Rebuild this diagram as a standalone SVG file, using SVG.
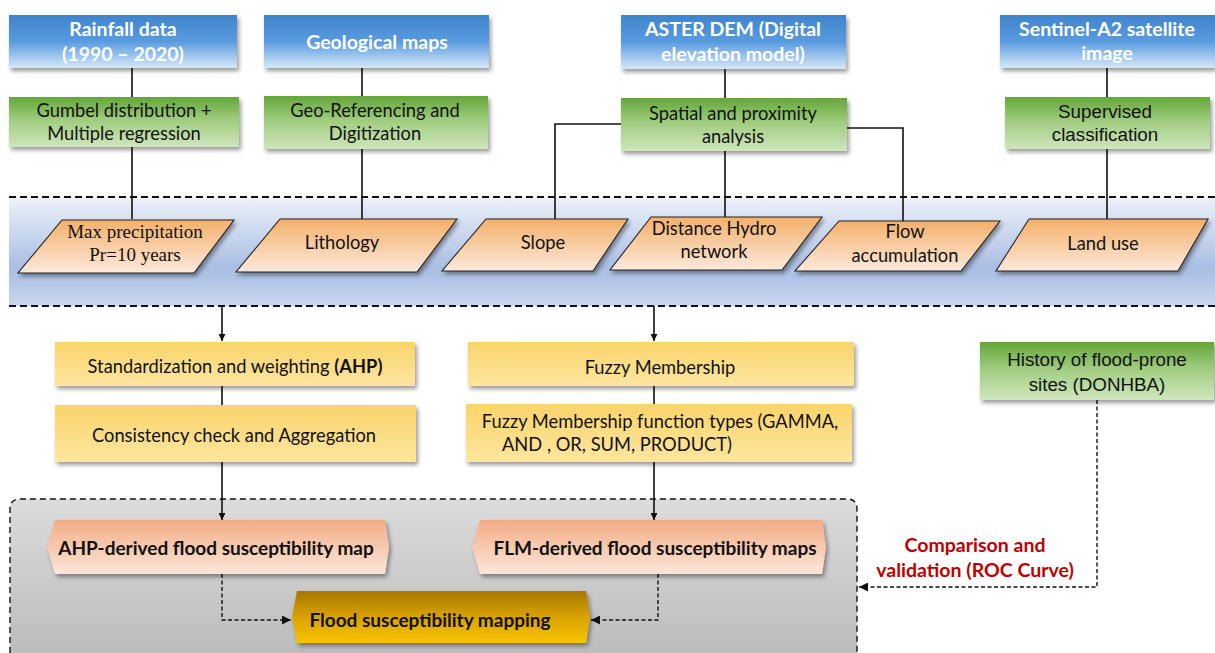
<svg xmlns="http://www.w3.org/2000/svg" width="1215" height="653" viewBox="0 0 1215 653">
<style>
.wt{font-family:Lato,"Liberation Sans",sans-serif;font-weight:bold;font-size:19.5px;fill:#fff;text-anchor:middle}
.ct{font-family:Lato,"Liberation Sans",sans-serif;font-size:18.3px;fill:#111;text-anchor:middle}
.at{font-family:"Liberation Sans",Arial,sans-serif;font-size:18.8px;fill:#111;text-anchor:middle}
.st{font-family:"Liberation Serif","Times New Roman",serif;font-size:19px;fill:#111;text-anchor:middle}
.bt{font-family:Lato,"Liberation Sans",sans-serif;font-weight:bold;font-size:19px;fill:#111;text-anchor:middle}
.rt{font-family:Lato,"Liberation Sans",sans-serif;font-weight:bold;font-size:19.5px;fill:#c00000;text-anchor:middle}
.ln{stroke:#111;stroke-width:1.6;fill:none}
.dl{stroke:#111;stroke-width:1.4;fill:none;stroke-dasharray:4 2.5}
.para{stroke:#222;stroke-width:1.1;fill:url(#gOr)}
</style>
<defs>
<linearGradient id="gBlue" x1="0" y1="0" x2="0" y2="1"><stop offset="0" stop-color="#3e84cc"/><stop offset="0.5" stop-color="#5a9be0"/><stop offset="1" stop-color="#d6e8f8"/></linearGradient>
<linearGradient id="gGreen" x1="0" y1="0" x2="0" y2="1"><stop offset="0" stop-color="#64a638"/><stop offset="0.45" stop-color="#9fcc7e"/><stop offset="1" stop-color="#cfe6bd"/></linearGradient>
<linearGradient id="gBand" x1="0" y1="0" x2="0" y2="1"><stop offset="0" stop-color="#eef2fa"/><stop offset="0.65" stop-color="#a9bee3"/><stop offset="1" stop-color="#c9d6ee"/></linearGradient>
<linearGradient id="gOr" x1="0" y1="0" x2="0" y2="1"><stop offset="0" stop-color="#f4b06a"/><stop offset="1" stop-color="#fde9dc"/></linearGradient>
<linearGradient id="gYel" x1="0" y1="0" x2="0" y2="1"><stop offset="0" stop-color="#fad46a"/><stop offset="1" stop-color="#fde6a0"/></linearGradient>
<linearGradient id="gHex" x1="0" y1="0" x2="0" y2="1"><stop offset="0" stop-color="#f2ad86"/><stop offset="1" stop-color="#fde6d8"/></linearGradient>
<linearGradient id="gGold" x1="0" y1="0" x2="0" y2="1"><stop offset="0" stop-color="#a87600"/><stop offset="0.5" stop-color="#d9a200"/><stop offset="1" stop-color="#f8c400"/></linearGradient>
<linearGradient id="gGrey" x1="0" y1="0" x2="0" y2="1"><stop offset="0" stop-color="#dcdcdc"/><stop offset="1" stop-color="#bcbcbc"/></linearGradient>
<filter id="sh" x="-10%" y="-20%" width="125%" height="150%"><feDropShadow dx="2" dy="3" stdDeviation="2" flood-color="#000" flood-opacity="0.4"/></filter>
<marker id="ah" viewBox="0 0 10 10" refX="10" refY="5" markerWidth="7" markerHeight="7" orient="auto" markerUnits="userSpaceOnUse"><path d="M0,0 L10,5 L0,10 z" fill="#111"/></marker>
<marker id="ah2" viewBox="0 0 10 10" refX="10" refY="5" markerWidth="9" markerHeight="9" orient="auto" markerUnits="userSpaceOnUse"><path d="M0,0 L10,5 L0,10 z" fill="#111"/></marker>
</defs>
<rect width="1215" height="653" fill="#fff"/>

<g id="band">
<rect x="9" y="197" width="1206" height="109" fill="url(#gBand)"/>
<line x1="9" y1="197" x2="1215" y2="197" stroke="#111" stroke-width="1.8" stroke-dasharray="7 4"/>
<line x1="9" y1="306" x2="1215" y2="306" stroke="#111" stroke-width="1.8" stroke-dasharray="7 4"/>
</g>
<g id="container">
<path d="M10,653 V509 Q10,499 20,499 H847 Q857,499 857,509 V653" fill="url(#gGrey)" stroke="#111" stroke-width="1.4" stroke-dasharray="6 4"/>
</g>

<g id="connectors">
<path class="ln" d="M132,68 V97 M132,147 V219"/>
<path class="ln" d="M362,68 V96 M362,149 V219"/>
<path class="ln" d="M725,69 V98 M725,151 V217"/>
<path class="ln" d="M621,124 H555 V219"/>
<path class="ln" d="M847,128 H903 V221"/>
<path class="ln" d="M1107,68 V97 M1107,149 V219"/>
<path class="ln" d="M222,306 V341" marker-end="url(#ah)"/>
<path class="ln" d="M654,306 V341" marker-end="url(#ah)"/>
<path class="ln" d="M222,386 V405"/>
<path class="ln" d="M654,386 V404"/>
<path class="ln" d="M222,462 V520" marker-end="url(#ah)"/>
<path class="ln" d="M654,462 V520" marker-end="url(#ah)"/>
<path class="dl" d="M222,574 V620 H291" marker-end="url(#ah2)"/>
<path class="dl" d="M658,574 V620 H591" marker-end="url(#ah2)"/>
<path class="dl" d="M1097,400 V587 H859" marker-end="url(#ah2)"/>
</g>

<g id="rainfall"><rect x="9" y="15" width="228" height="53" fill="url(#gBlue)" filter="url(#sh)"/><text class="wt" x="123" y="36">Rainfall data</text><text class="wt" x="123" y="61">(1990 – 2020)</text></g>
<g id="geomaps"><rect x="264" y="15" width="225" height="53" fill="url(#gBlue)" filter="url(#sh)"/><text class="wt" x="377" y="49">Geological maps</text></g>
<g id="aster"><rect x="621" y="15" width="225" height="54" fill="url(#gBlue)" filter="url(#sh)"/><text class="wt" x="733" y="36">ASTER DEM (Digital</text><text class="wt" x="733" y="61">elevation model)</text></g>
<g id="sentinel"><rect x="1000" y="15" width="215" height="53" fill="url(#gBlue)" filter="url(#sh)"/><text class="wt" x="1107" y="36">Sentinel-A2 satellite</text><text class="wt" x="1107" y="60">image</text></g>

<g id="gumbel"><rect x="9" y="97" width="230" height="50" fill="url(#gGreen)" filter="url(#sh)"/><text class="ct" x="124" y="117">Gumbel distribution +</text><text class="ct" x="124" y="140">Multiple regression</text></g>
<g id="georef"><rect x="264" y="96" width="224" height="53" fill="url(#gGreen)" filter="url(#sh)"/><text class="ct" x="375" y="117">Geo-Referencing and</text><text class="ct" x="375" y="140">Digitization</text></g>
<g id="spatial"><rect x="621" y="98" width="226" height="53" fill="url(#gGreen)" filter="url(#sh)"/><text class="ct" x="733" y="120">Spatial and proximity</text><text class="ct" x="733" y="143">analysis</text></g>
<g id="supervised"><rect x="1005" y="97" width="205" height="52" fill="url(#gGreen)" filter="url(#sh)"/><text class="at" x="1105" y="118">Supervised</text><text class="at" x="1105" y="141">classification</text></g>

<g id="maxprecip"><polygon class="para" points="62,220 234,220 194,273 18,273" filter="url(#sh)"/><text class="st" x="135" y="238">Max precipitation</text><text class="st" x="135" y="261">Pr=10 years</text></g>
<g id="lithology"><polygon class="para" points="280,219 457,219 417,272 236,272" filter="url(#sh)"/><text class="ct" x="342" y="249">Lithology</text></g>
<g id="slope"><polygon class="para" points="486,219 628,219 593,271 442,271" filter="url(#sh)"/><text class="ct" x="543" y="249">Slope</text></g>
<g id="distance"><polygon class="para" points="651,217 822,217 782,270 610,270" filter="url(#sh)"/><text class="ct" x="714" y="235">Distance Hydro</text><text class="ct" x="714" y="258">network</text></g>
<g id="flow"><polygon class="para" points="839,221 1000,221 961,271 795,271" filter="url(#sh)"/><text class="ct" x="905" y="238">Flow</text><text class="ct" x="905" y="262">accumulation</text></g>
<g id="landuse"><polygon class="para" points="1029,219 1208,219 1178,271 996,271" filter="url(#sh)"/><text class="ct" x="1103" y="250">Land use</text></g>

<g id="standard"><rect x="55" y="342" width="360" height="44" fill="url(#gYel)" filter="url(#sh)"/><text class="ct" x="235" y="373">Standardization and weighting <tspan font-weight="bold">(AHP)</tspan></text></g>
<g id="consistency"><rect x="55" y="405" width="361" height="57" fill="url(#gYel)" filter="url(#sh)"/><text class="ct" x="234" y="442">Consistency check and Aggregation</text></g>
<g id="fuzzy"><rect x="468" y="342" width="386" height="44" fill="url(#gYel)" filter="url(#sh)"/><text class="ct" x="660" y="374">Fuzzy Membership</text></g>
<g id="fuzzytypes"><rect x="466" y="404" width="386" height="58" fill="url(#gYel)" filter="url(#sh)"/><text class="ct" x="660" y="428">Fuzzy Membership function types (GAMMA,</text><text class="ct" x="617" y="451">AND , OR, SUM, PRODUCT)</text></g>

<g id="history"><rect x="980" y="342" width="234" height="58" fill="url(#gGreen)" filter="url(#sh)"/><text class="at" x="1097" y="366">History of flood-prone</text><text class="at" x="1097" y="391">sites (DONHBA)</text></g>

<g id="ahpmap"><polygon points="55,520 385,520 389,547 385,574 55,574 47,547" fill="url(#gHex)" filter="url(#sh)"/><text class="bt" x="216" y="555">AHP-derived flood susceptibility map</text></g>
<g id="flmmap"><polygon points="480,520 822,520 826,547 822,574 480,574 472,547" fill="url(#gHex)" filter="url(#sh)"/><text class="bt" x="655" y="555">FLM-derived flood susceptibility maps</text></g>
<g id="fsm"><polygon points="297,591 586,591 590,617 586,643 297,643 292,617" fill="url(#gGold)" filter="url(#sh)"/><text class="bt" x="430" y="627">Flood susceptibility mapping</text></g>

<g id="validation"><text class="rt" x="975" y="552">Comparison and</text><text class="rt" x="975" y="577">validation (ROC Curve)</text></g>
</svg>
